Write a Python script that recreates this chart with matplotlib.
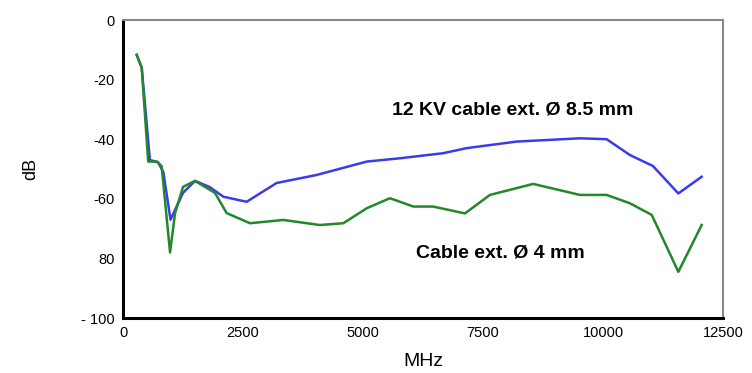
#!/usr/bin/env python3

import matplotlib
matplotlib.use("Agg")
import matplotlib.pyplot as plt

# (MHz, dB)
freq_12kv = [285, 390, 560, 730, 840, 990, 1250, 1500, 1800, 2090, 2575, 3200,
             4035, 5080, 5770, 6670, 7160, 8200, 9520, 10075, 10560, 11040,
             11570, 12055]
db_12kv = [-11.7, -16, -47, -47.7, -51, -67, -58, -54, -56, -59.3, -61, -54.7,
           -52, -47.5, -46.4, -44.7, -43, -40.8, -39.7, -40, -45.3, -49,
           -58.2, -52.6]

freq_4mm = [285, 390, 525, 700, 805, 980, 1085, 1250, 1500, 1915, 2160, 2645,
            3340, 4100, 4590, 5075, 5560, 6050, 6460, 7125, 7645, 8545, 9520,
            10075, 10560, 11015, 11570, 12055]
db_4mm = [-11.7, -16, -47.5, -47.5, -49, -78, -64.8, -56, -54, -58, -64.8,
          -68.2, -67.1, -68.8, -68.2, -63.2, -59.8, -62.6, -62.6, -64.9, -58.7,
          -55, -58.7, -58.7, -61.5, -65.4, -84.5, -68.8]

x_ticks = [0, 2500, 5000, 7500, 10000, 12500]
x_tick_labels = ["0", "2500", "5000", "7500", "10000", "12500"]
y_ticks = [0, -20, -40, -60, -80, -100]
y_tick_labels = ["0", "-20", "-40", "-60", "80", "- 100"]

LABEL_12KV = "12 KV cable ext. Ø 8.5 mm"
LABEL_4MM = "Cable ext. Ø 4 mm"


def main():
    plt.rcParams['font.family'] = ['Liberation Sans', 'DejaVu Sans']

    fig = plt.figure(figsize=(7.52, 3.73), dpi=100)
    ax = fig.add_axes([123 / 752, 55 / 373, 600 / 752, 298 / 373])

    ax.plot(freq_12kv, db_12kv, color='#3a3aee', linewidth=1.8)
    ax.plot(freq_4mm, db_4mm, color='#22882a', linewidth=1.8)

    ax.text(5600, -30.2, LABEL_12KV, fontsize=14, fontweight='bold',
            va='center', ha='left')
    ax.text(6100, -78.2, LABEL_4MM, fontsize=14, fontweight='bold',
            va='center', ha='left')

    format_axes(ax)
    fig.savefig("out.png", dpi=100)


def format_axes(ax):
    ax.set_xlim(0, 12500)
    ax.set_ylim(-100, 0)
    ax.set_xticks(x_ticks)
    ax.set_xticklabels(x_tick_labels, fontsize=10.5)
    ax.set_yticks(y_ticks)
    ax.set_yticklabels(y_tick_labels, fontsize=10.5)
    ax.tick_params(length=0, pad=6)

    ax.set_xlabel("MHz", fontsize=14, labelpad=9)
    ax.set_ylabel("dB", fontsize=13, labelpad=30)

    for side in ['left', 'bottom']:
        ax.spines[side].set_linewidth(2.2)
        ax.spines[side].set_color('black')
    for side in ['top', 'right']:
        ax.spines[side].set_linewidth(1.5)
        ax.spines[side].set_color('#888888')


if __name__ == "__main__":
    main()
